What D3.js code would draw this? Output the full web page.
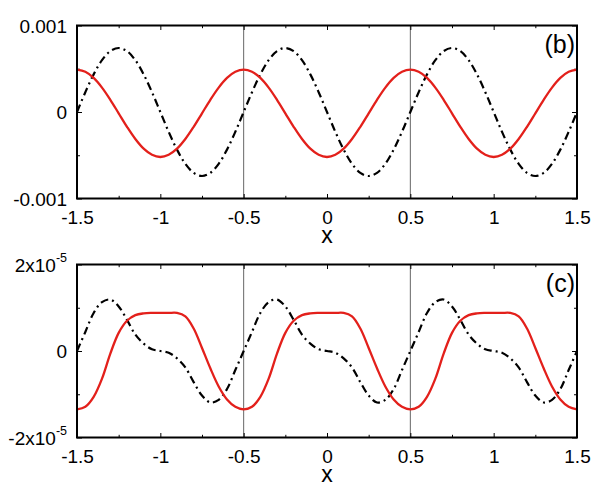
<!DOCTYPE html>
<html>
<head>
<meta charset="utf-8">
<script src="https://cdn.jsdelivr.net/npm/d3@7"></script>
<style>
body { margin: 0; background: #fff; }
text { font-family: "Liberation Sans", Arial, Helvetica, sans-serif; fill: #000; }
</style>
</head>
<body>
<div id="chart"></div>
<script>
var xs = [-1.5, -1.45, -1.4, -1.35, -1.3, -1.25, -1.2, -1.15, -1.1, -1.05,
  -1, -0.95, -0.9, -0.85, -0.8, -0.75, -0.7, -0.65, -0.6, -0.55,
  -0.5, -0.45, -0.4, -0.35, -0.3, -0.25, -0.2, -0.15, -0.1, -0.05,
  0, 0.05, 0.1, 0.15, 0.2, 0.25, 0.3, 0.35, 0.4, 0.45,
  0.5, 0.55, 0.6, 0.65, 0.7, 0.75, 0.8, 0.85, 0.9, 0.95,
  1, 1.05, 1.1, 1.15, 1.2, 1.25, 1.3, 1.35, 1.4, 1.45, 1.5];

// panel (b), values in units of 1e-4
var redB = [4.9, 4.65, 3.94, 2.82, 1.41, -0.15, -1.71, -3.12, -4.24, -4.95,
  -5.2, -4.95, -4.24, -3.12, -1.71, -0.15, 1.41, 2.82, 3.94, 4.65,
  4.9, 4.65, 3.94, 2.82, 1.41, -0.15, -1.71, -3.12, -4.24, -4.95,
  -5.2, -4.95, -4.24, -3.12, -1.71, -0.15, 1.41, 2.82, 3.94, 4.65,
  4.9, 4.65, 3.94, 2.82, 1.41, -0.15, -1.71, -3.12, -4.24, -4.95,
  -5.2, -4.95, -4.24, -3.12, -1.71, -0.15, 1.41, 2.82, 3.94, 4.65, 4.9];
var blackB = [0, 2.29, 4.35, 5.99, 7.04, 7.4, 7.04, 5.99, 4.35, 2.29,
  0, -2.29, -4.35, -5.99, -7.04, -7.4, -7.04, -5.99, -4.35, -2.29,
  0, 2.29, 4.35, 5.99, 7.04, 7.4, 7.04, 5.99, 4.35, 2.29,
  0, -2.29, -4.35, -5.99, -7.04, -7.4, -7.04, -5.99, -4.35, -2.29,
  0, 2.29, 4.35, 5.99, 7.04, 7.4, 7.04, 5.99, 4.35, 2.29,
  0, -2.29, -4.35, -5.99, -7.04, -7.4, -7.04, -5.99, -4.35, -2.29, 0];

// panel (c), values in units of 1e-5
var redC = [-1.35, -1.29, -1.06, -0.64, -0.06, 0.42, 0.7, 0.83, 0.87, 0.88,
  0.88, 0.88, 0.88, 0.8, 0.52, 0.07, -0.4, -0.82, -1.12, -1.29,
  -1.35, -1.29, -1.06, -0.64, -0.06, 0.42, 0.7, 0.83, 0.87, 0.88,
  0.88, 0.88, 0.88, 0.8, 0.52, 0.07, -0.4, -0.82, -1.12, -1.29,
  -1.35, -1.29, -1.06, -0.64, -0.06, 0.42, 0.7, 0.83, 0.87, 0.88,
  0.88, 0.88, 0.88, 0.8, 0.52, 0.07, -0.4, -0.82, -1.12, -1.29, -1.35];
var blackC = [0, 0.44, 0.88, 1.13, 1.19, 1.03, 0.72, 0.38, 0.17, 0.04,
  0, -0.04, -0.17, -0.38, -0.72, -1.03, -1.19, -1.13, -0.88, -0.44,
  0, 0.44, 0.88, 1.13, 1.19, 1.03, 0.72, 0.38, 0.17, 0.04,
  0, -0.04, -0.17, -0.38, -0.72, -1.03, -1.19, -1.13, -0.88, -0.44,
  0, 0.44, 0.88, 1.13, 1.19, 1.03, 0.72, 0.38, 0.17, 0.04,
  0, -0.04, -0.17, -0.38, -0.72, -1.03, -1.19, -1.13, -0.88, -0.44, 0];

var xTicks = [-1.5, -1, -0.5, 0, 0.5, 1, 1.5];
var xTickLabels = ["-1.5", "-1", "-0.5", "0", "0.5", "1", "1.5"];
var xMinorTicks = [-1.25, -0.75, -0.25, 0.25, 0.75, 1.25];
var guideXs = [-0.5, 0.5];

var yTicksB = [-10, 0, 10];
var yLabelsB = ["-0.001", "0", "0.001"];
var yMinorB = [-5, 5];

var yTicksC = [-2, 0, 2];
var yLabelsC = ["-2x10", "0", "2x10"];
var yExpC = ["-5", "", "-5"];
var yMinorC = [-1, 1];

var svgWidth = 598;
var svgHeight = 502;
var plotLeft = 77;
var plotWidth = 500;
var plotHeight = 173;

var svg = d3.select("#chart")
  .append("svg")
  .attr("width", svgWidth)
  .attr("height", svgHeight);

var xScale = d3.scaleLinear().domain([-1.5, 1.5]).range([plotLeft, plotLeft + plotWidth]);

function drawPanel(top, yMax, red, black, yTicks, yLabels, yExp, yMinor, tag) {
  var bottom = top + plotHeight;
  var yScale = d3.scaleLinear().domain([-yMax, yMax]).range([bottom, top]);
  var g = svg.append("g");

  // guide lines at x = +-0.5
  g.selectAll(".guide")
    .data(guideXs)
    .enter()
    .append("line")
    .attr("x1", d => xScale(d))
    .attr("x2", d => xScale(d))
    .attr("y1", top)
    .attr("y2", bottom)
    .attr("stroke", "#666")
    .attr("stroke-width", 1);

  // ticks, all pointing inward
  g.append("g")
    .attr("transform", `translate(0, ${bottom})`)
    .call(d3.axisBottom(xScale).tickValues(xTicks).tickSizeInner(-4.5).tickSizeOuter(0)
      .tickPadding(12.5).tickFormat((d, i) => xTickLabels[i]));
  g.append("g")
    .attr("transform", `translate(0, ${bottom})`)
    .call(d3.axisBottom(xScale).tickValues(xMinorTicks).tickSizeInner(-2.7).tickSizeOuter(0).tickFormat(""));
  g.append("g")
    .attr("transform", `translate(0, ${top})`)
    .call(d3.axisTop(xScale).tickValues(xTicks).tickSizeInner(-4.5).tickSizeOuter(0).tickFormat(""));
  g.append("g")
    .attr("transform", `translate(0, ${top})`)
    .call(d3.axisTop(xScale).tickValues(xMinorTicks).tickSizeInner(-2.7).tickSizeOuter(0).tickFormat(""));

  var yAxisL = g.append("g")
    .attr("transform", `translate(${plotLeft}, 0)`)
    .call(d3.axisLeft(yScale).tickValues(yTicks).tickSizeInner(-5).tickSizeOuter(0)
      .tickPadding(10).tickFormat((d, i) => yLabels[i]));
  g.append("g")
    .attr("transform", `translate(${plotLeft}, 0)`)
    .call(d3.axisLeft(yScale).tickValues(yMinor).tickSizeInner(-3).tickSizeOuter(0).tickFormat(""));
  g.append("g")
    .attr("transform", `translate(${plotLeft + plotWidth}, 0)`)
    .call(d3.axisRight(yScale).tickValues(yTicks).tickSizeInner(-5).tickSizeOuter(0).tickFormat(""));
  g.append("g")
    .attr("transform", `translate(${plotLeft + plotWidth}, 0)`)
    .call(d3.axisRight(yScale).tickValues(yMinor).tickSizeInner(-3).tickSizeOuter(0).tickFormat(""));

  g.selectAll(".domain").remove();
  g.selectAll(".tick line").attr("stroke", "#000").attr("stroke-width", 1);
  g.selectAll(".tick text").style("font-size", "19px").attr("fill", "#000");
  yAxisL.selectAll(".tick text").attr("dy", "0.36em");

  // exponent as superscript where needed
  if (yExp) {
    yAxisL.selectAll(".tick text").each(function(d, i) {
      if (yExp[i]) {
        d3.select(this).append("tspan")
          .attr("dy", -10)
          .style("font-size", "12.5px")
          .text(yExp[i]);
      }
    });
  }

  var line = d3.line()
    .x((d, i) => xScale(xs[i]))
    .y(d => yScale(d))
    .curve(d3.curveCatmullRom);

  g.append("path")
    .datum(black)
    .attr("d", line)
    .attr("fill", "none")
    .attr("stroke", "#000")
    .attr("stroke-width", 2.2)
    .attr("stroke-dasharray", "8,4,2,4");

  g.append("path")
    .datum(red)
    .attr("d", line)
    .attr("fill", "none")
    .attr("stroke", "#e3201b")
    .attr("stroke-width", 2.3);

  // frame
  g.append("rect")
    .attr("x", plotLeft)
    .attr("y", top)
    .attr("width", plotWidth)
    .attr("height", plotHeight)
    .attr("fill", "none")
    .attr("stroke", "#000")
    .attr("stroke-width", 2);

  g.append("text")
    .attr("x", xScale(0))
    .attr("y", bottom + 44.5)
    .attr("text-anchor", "middle")
    .style("font-size", "23px")
    .text("x");

  g.append("text")
    .attr("x", plotLeft + plotWidth - 2)
    .attr("y", top + 27.5)
    .attr("text-anchor", "end")
    .style("font-size", "25px")
    .text(tag);
}

drawPanel(25.5, 10, redB, blackB, yTicksB, yLabelsB, null, yMinorB, "(b)");
drawPanel(264.5, 2, redC, blackC, yTicksC, yLabelsC, yExpC, yMinorC, "(c)");
</script>
</body>
</html>
